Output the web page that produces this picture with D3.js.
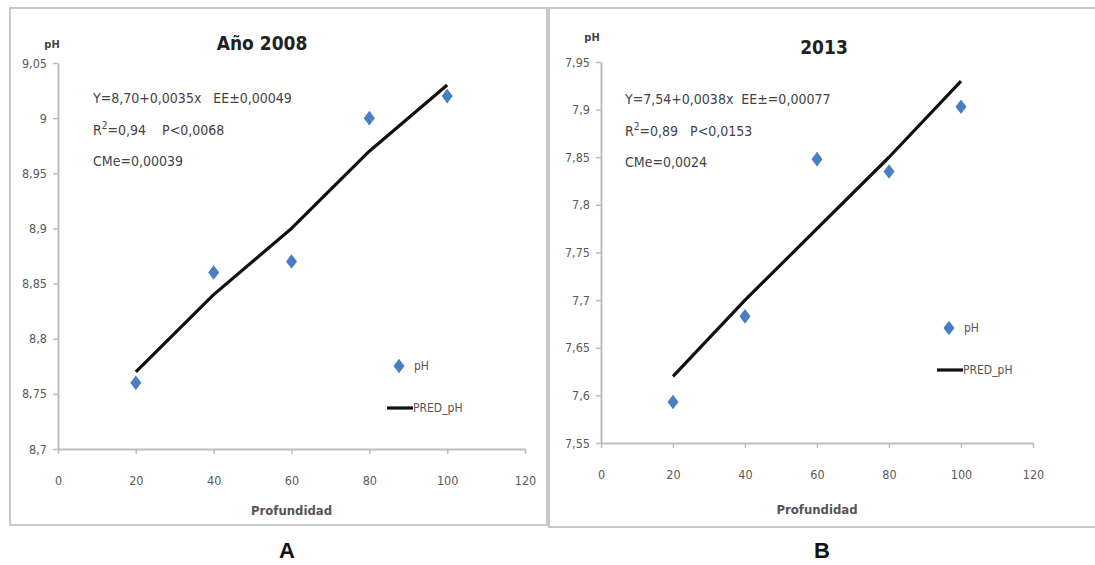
<!DOCTYPE html>
<html><head><meta charset="utf-8">
<script src="https://cdn.jsdelivr.net/npm/d3@7"></script>
<style>
body{margin:0;background:#fff;}
svg{display:block;}
text{white-space:pre;}
</style></head>
<body>
<svg id="c" width="1095" height="565"></svg>
<script>
const depth = [20, 40, 60, 80, 100];
const ph2008 = [8.76, 8.86, 8.87, 9.00, 9.02];
const pred2008 = [8.77, 8.84, 8.90, 8.97, 9.03];
const ph2013 = [7.593, 7.683, 7.848, 7.835, 7.903];
const pred2013 = [7.62, 7.70, 7.775, 7.85, 7.93];
const xTicks = [0, 20, 40, 60, 80, 100, 120];
const yTicks2008 = [8.7, 8.75, 8.8, 8.85, 8.9, 8.95, 9.0, 9.05];
const yTicks2013 = [7.55, 7.6, 7.65, 7.7, 7.75, 7.8, 7.85, 7.9, 7.95];
const titles = ["Año 2008", "2013"];
const panelLetters = ["A", "B"];
const eq2008 = ["Y=8,70+0,0035x   EE±0,00049", "=0,94    P<0,0068", "CMe=0,00039"];
const eq2013 = ["Y=7,54+0,0038x  EE±=0,00077", "=0,89   P<0,0153", "CMe=0,0024"];
const legendLabels = ["pH", "PRED_pH"];

const svg = d3.select("#c");
const FONT = "'Liberation Sans Narrow','DejaVu Sans Condensed','Arial Narrow',sans-serif";
const fmt = v => d3.format(".2~f")(v).replace(".", ",");

// panel frames
svg.append("rect").attr("x", 10).attr("y", 8).attr("width", 537).attr("height", 517)
  .attr("fill", "none").attr("stroke", "#c8c8c8").attr("stroke-width", 2);
svg.append("rect").attr("x", 549).attr("y", 8).attr("width", 560).attr("height", 519)
  .attr("fill", "none").attr("stroke", "#c8c8c8").attr("stroke-width", 2);

const panels = [
  {x0: 58, x1: 525, yb: 449, yt: 63, ticks: yTicks2008, ph: ph2008, pred: pred2008, eq: eq2008,
   title: titles[0], titleX: 262, titleY: 50, eqX: 93, eqY: 103, phX: 52, phY: 48,
   letter: panelLetters[0], letterX: 287, legX: 399, legY: 366, profY: 515},
  {x0: 601, x1: 1033, yb: 443, yt: 62, ticks: yTicks2013, ph: ph2013, pred: pred2013, eq: eq2013,
   title: titles[1], titleX: 824, titleY: 54, eqX: 625, eqY: 104, phX: 592, phY: 41,
   letter: panelLetters[1], letterX: 822, legX: 949, legY: 328, profY: 514}
];

panels.forEach(p => {
  const x = d3.scaleLinear().domain([0, 120]).range([p.x0, p.x1]);
  const y = d3.scaleLinear().domain([p.ticks[0], p.ticks[p.ticks.length - 1]]).range([p.yb, p.yt]);
  const g = svg.append("g");

  const xa = g.append("g").attr("transform", `translate(0,${p.yb})`)
    .call(d3.axisBottom(x).tickValues(xTicks).tickFormat(d => d).tickSize(5).tickSizeOuter(0).tickPadding(22));
  const ya = g.append("g").attr("transform", `translate(${p.x0},0)`)
    .call(d3.axisLeft(y).tickValues(p.ticks).tickFormat(fmt).tickSize(5).tickSizeOuter(0).tickPadding(6));
  [xa, ya].forEach(a => {
    a.select(".domain").attr("stroke", "#bdbdbd").attr("stroke-width", 2);
    a.selectAll(".tick line").attr("stroke", "#bdbdbd").attr("stroke-width", 1.5);
    a.selectAll(".tick text").attr("fill", "#5a5a5a").attr("font-family", FONT).attr("font-size", 12.5);
  });
  ya.selectAll(".tick text").attr("dy", "0.32em");

  // prediction line
  const line = d3.line().x((d, i) => x(depth[i])).y(d => y(d));
  g.append("path").datum(p.pred).attr("d", line).attr("fill", "none")
    .attr("stroke", "#111").attr("stroke-width", 3.2).attr("stroke-linejoin", "round");

  // observed points
  const sym = d3.symbol().type(d3.symbolDiamond).size(62);
  g.selectAll(".pt").data(p.ph).join("path")
    .attr("transform", (d, i) => `translate(${x(depth[i])},${y(d)}) scale(1.3,1)`)
    .attr("d", sym).attr("fill", "#4a7ec2");

  // axis titles
  g.append("text").attr("x", (p.x0 + x(120)) / 2 ).attr("y", p.profY).attr("text-anchor", "middle")
    .attr("font-family", FONT).attr("font-size", 13).attr("font-weight", "bold").attr("fill", "#555")
    .text("Profundidad");
  g.append("text").attr("x", p.phX).attr("y", p.phY).attr("text-anchor", "middle")
    .attr("font-family", FONT).attr("font-size", 11).attr("font-weight", "bold").attr("fill", "#444")
    .text("pH");

  // chart title
  g.append("text").attr("x", p.titleX).attr("y", p.titleY).attr("text-anchor", "middle")
    .attr("font-family", FONT).attr("font-size", 19).attr("font-weight", "bold").attr("fill", "#222")
    .text(p.title);

  // equation annotations
  const eqG = g.append("g").attr("font-family", FONT).attr("font-size", 14).attr("fill", "#444");
  eqG.append("text").attr("x", p.eqX).attr("y", p.eqY).text(p.eq[0]);
  const r = eqG.append("text").attr("x", p.eqX).attr("y", p.eqY + 32);
  r.append("tspan").text("R");
  r.append("tspan").attr("dy", -6).attr("font-size", 10).text("2");
  r.append("tspan").attr("dy", 6).text(p.eq[1]);
  eqG.append("text").attr("x", p.eqX).attr("y", p.eqY + 63).text(p.eq[2]);

  // legend
  const lg = g.append("g").attr("font-family", FONT).attr("font-size", 12).attr("fill", "#555");
  lg.append("path").attr("transform", `translate(${p.legX},${p.legY}) scale(1.3,1)`).attr("d", sym).attr("fill", "#4a7ec2");
  lg.append("text").attr("x", p.legX + 15).attr("y", p.legY + 4).text(legendLabels[0]);
  lg.append("line").attr("x1", p.legX - 12).attr("x2", p.legX + 14)
    .attr("y1", p.legY + 42).attr("y2", p.legY + 42).attr("stroke", "#111").attr("stroke-width", 3.2);
  lg.append("text").attr("x", p.legX + 14).attr("y", p.legY + 46).text(legendLabels[1]);

  // panel letter
  g.append("text").attr("x", p.letterX).attr("y", 558).attr("text-anchor", "middle")
    .attr("font-family", "'Liberation Sans','DejaVu Sans',sans-serif").attr("font-size", 22)
    .attr("font-weight", "bold").attr("fill", "#111").text(p.letter);
});
</script>
</body></html>
